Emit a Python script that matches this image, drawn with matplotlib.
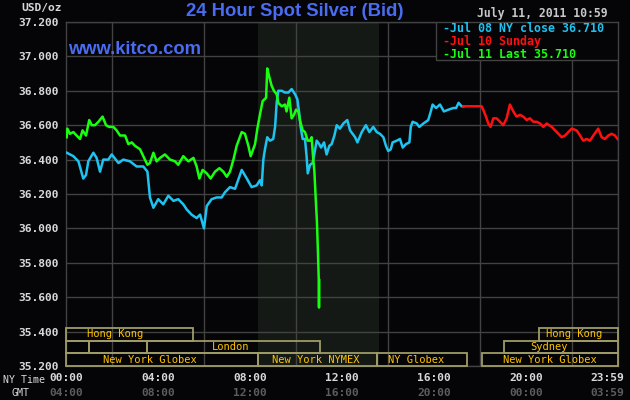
import matplotlib
matplotlib.use("Agg")
import matplotlib.pyplot as plt
from matplotlib.patches import Rectangle
import matplotlib.transforms as mtransforms

# --- data (hours after 00:00 NY time, USD/oz) ---
jul08_hours = [0.03, 0.32, 0.54, 0.75, 0.87, 0.97, 1.19, 1.33, 1.48, 1.62, 1.84, 1.99,
               2.28, 2.49, 2.78, 3.07, 3.36, 3.54, 3.65, 3.80, 4.01, 4.23, 4.45, 4.67,
               4.88, 5.10, 5.25, 5.46, 5.68, 5.83, 6.00, 6.12, 6.33, 6.55, 6.77, 6.91,
               7.13, 7.35, 7.64, 7.86, 8.07, 8.29, 8.43, 8.51, 8.58, 8.65, 8.75, 8.87,
               9.01, 9.09, 9.16, 9.23, 9.38, 9.52, 9.67, 9.81, 9.96, 10.06, 10.14, 10.20,
               10.29, 10.39, 10.46, 10.51, 10.61, 10.72, 10.78, 10.90, 11.01, 11.09, 11.22,
               11.33, 11.45, 11.55, 11.67, 11.77, 11.91, 12.06, 12.23, 12.35, 12.57, 12.67,
               12.86, 13.04, 13.19, 13.36, 13.51, 13.65, 13.80, 13.91, 14.01, 14.12, 14.20,
               14.38, 14.52, 14.64, 14.78, 14.93, 14.99, 15.07, 15.25, 15.36, 15.54, 15.75,
               15.86, 15.94, 16.09, 16.26, 16.43, 16.62, 16.84, 16.96, 17.07, 17.20, 17.28]
jul08_price = [36.44, 36.42, 36.39, 36.29, 36.31, 36.39, 36.44, 36.41, 36.33, 36.40, 36.40, 36.43,
               36.38, 36.40, 36.39, 36.36, 36.36, 36.33, 36.18, 36.12, 36.17, 36.14, 36.19, 36.16,
               36.17, 36.14, 36.11, 36.08, 36.06, 36.08, 36.00, 36.13, 36.17, 36.18, 36.18, 36.21,
               36.24, 36.23, 36.34, 36.29, 36.24, 36.25, 36.28, 36.25, 36.40, 36.46, 36.53, 36.51,
               36.52, 36.59, 36.73, 36.80, 36.80, 36.79, 36.79, 36.81, 36.78, 36.75, 36.67, 36.59,
               36.52, 36.52, 36.42, 36.32, 36.37, 36.38, 36.42, 36.51, 36.49, 36.47, 36.50,
               36.43, 36.48, 36.49, 36.54, 36.60, 36.58, 36.61, 36.63, 36.57, 36.53, 36.50,
               36.56, 36.60, 36.56, 36.59, 36.56, 36.55, 36.53, 36.48, 36.45, 36.46, 36.50,
               36.51, 36.52, 36.47, 36.49, 36.50, 36.59, 36.62, 36.61, 36.59, 36.61, 36.63,
               36.68, 36.72, 36.70, 36.72, 36.68, 36.69, 36.70, 36.70, 36.73, 36.71, 36.71]

jul10_hours = [17.28, 18.07, 18.14, 18.26, 18.36, 18.46, 18.58, 18.72, 18.87, 19.01, 19.16,
               19.30, 19.45, 19.59, 19.74, 19.88, 20.03, 20.17, 20.32, 20.46, 20.61, 20.75,
               20.90, 21.12, 21.26, 21.41, 21.55, 21.70, 21.84, 21.99, 22.20, 22.35, 22.49,
               22.64, 22.78, 22.93, 23.14, 23.29, 23.43, 23.58, 23.72, 23.87, 23.98]
jul10_price = [36.71, 36.71, 36.69, 36.65, 36.61, 36.59, 36.64, 36.64, 36.62, 36.60, 36.64,
               36.72, 36.68, 36.65, 36.66, 36.65, 36.63, 36.64, 36.62, 36.62, 36.61, 36.59,
               36.61, 36.59, 36.57, 36.55, 36.53, 36.54, 36.56, 36.58, 36.57, 36.54, 36.51,
               36.52, 36.51, 36.54, 36.58, 36.53, 36.52, 36.54, 36.55, 36.54, 36.52]

jul11_hours = [0.03, 0.06, 0.17, 0.32, 0.46, 0.61, 0.72, 0.87, 1.01, 1.12, 1.26, 1.41, 1.59,
               1.74, 1.88, 2.06, 2.20, 2.35, 2.57, 2.71, 2.86, 3.00, 3.22, 3.36, 3.54, 3.65,
               3.80, 3.94, 4.09, 4.30, 4.52, 4.74, 4.88, 5.10, 5.32, 5.54, 5.68, 5.80, 5.94,
               6.12, 6.29, 6.48, 6.67, 6.84, 6.99, 7.13, 7.28, 7.42, 7.64, 7.78, 7.93, 8.03,
               8.22, 8.32, 8.43, 8.55, 8.70, 8.75, 8.84, 8.94, 9.04, 9.16, 9.23, 9.38, 9.52,
               9.59, 9.71, 9.81, 9.91, 10.00, 10.10, 10.17, 10.29, 10.39, 10.51, 10.61, 10.68,
               10.75, 10.80, 10.84, 10.87, 10.91, 10.96, 10.99, 11.00, 11.01]
jul11_price = [36.53, 36.58, 36.55, 36.56, 36.54, 36.52, 36.57, 36.54, 36.63, 36.60, 36.60, 36.62, 36.65,
               36.60, 36.59, 36.59, 36.57, 36.54, 36.54, 36.49, 36.50, 36.48, 36.46, 36.42, 36.37, 36.38,
               36.44, 36.39, 36.41, 36.43, 36.40, 36.39, 36.37, 36.42, 36.39, 36.41, 36.36, 36.29, 36.34,
               36.32, 36.29, 36.33, 36.35, 36.33, 36.30, 36.33, 36.40, 36.48, 36.56, 36.55, 36.48, 36.42,
               36.49, 36.58, 36.66, 36.74, 36.76, 36.93, 36.88, 36.83, 36.80, 36.78, 36.73, 36.71, 36.72,
               36.68, 36.76, 36.64, 36.66, 36.69, 36.68, 36.63, 36.57, 36.56, 36.51, 36.51, 36.53,
               36.40, 36.33, 36.22, 36.14, 36.04, 35.84, 35.70, 35.54, 35.70]

legend_labels = ["-Jul 08 NY close 36.710", "-Jul 10 Sunday", "-Jul 11 Last 35.710"]

ny_ticks = [0, 4, 8, 12, 16, 20, 23.98]
ny_labels = ["00:00", "04:00", "08:00", "12:00", "16:00", "20:00", "23:59"]
gmt_labels = ["04:00", "08:00", "12:00", "16:00", "20:00", "00:00", "03:59"]
price_ticks = [35.2, 35.4, 35.6, 35.8, 36.0, 36.2, 36.4, 36.6, 36.8, 37.0, 37.2]

# market sessions: row (0 = bottom), start hour, end hour, name, label hour
sessions = [
    (2, 0.0, 5.52, "Hong Kong", 2.13),
    (2, 20.57, 24.0, "Hong Kong", 22.11),
    (1, 0.0, 1.0, "", 0),
    (1, 1.0, 3.52, "", 0),
    (1, 3.52, 11.04, "London", 7.17),
    (1, 19.04, 24.0, "Sydney", 21.0),
    (0, 0.0, 8.33, "New York Globex", 3.65),
    (0, 8.33, 13.5, "New York NYMEX", 10.87),
    (0, 13.5, 17.43, "NY Globex", 15.22),
    (0, 18.08, 24.0, "New York Globex", 21.02),
]
nymex_hours = (8.35, 13.6)

BG = "#050507"
GRID = "#424242"
CYAN = "#1ec3f0"
RED = "#ff1010"
GREEN = "#18ff10"
BLUE = "#4a6cf0"
BOX = "#a09c66"
GOLD = "#ffc400"
MONO = "DejaVu Sans Mono"

fig = plt.figure(figsize=(6.3, 4.0), dpi=100, facecolor=BG)
ax = fig.add_axes([66 / 630, 34 / 400, 552 / 630, 344 / 400])
ax.set_facecolor(BG)

ax.axvspan(*nymex_hours, color="#151915", zorder=0, lw=0)

ax.set_xlim(0, 24)
ax.set_ylim(35.2, 37.2)
ax.set_xticks(range(0, 25, 2), minor=True)
ax.set_yticks(price_ticks)
ax.grid(True, which="minor", axis="x", color=GRID, lw=1.0, zorder=1)
ax.grid(True, which="major", axis="y", color=GRID, lw=1.0, zorder=1)
for s in ax.spines.values():
    s.set_color(GRID)
    s.set_linewidth(1.0)

ax.set_xticks(ny_ticks)
ax.set_xticklabels(ny_labels)
ax.set_yticklabels([f"{v:.3f}" for v in price_ticks])
ax.tick_params(axis="both", which="both", length=0)
ax.tick_params(axis="y", pad=5, labelsize=8.1, labelcolor="#d8d8d8")
ax.tick_params(axis="x", pad=5, labelsize=8.1, labelcolor="#d8d8d8")

gmt = ax.secondary_xaxis("bottom")
gmt.set_xticks(ny_ticks)
gmt.set_xticklabels(gmt_labels)
gmt.tick_params(length=0, pad=16, labelsize=8.1, labelcolor="#5c5c5c")
gmt.spines["bottom"].set_visible(False)

# the 23:59 labels sit a little left of the last grid line, as on the original
nudge = mtransforms.ScaledTranslation(-10 / 100, 0, fig.dpi_scale_trans)
for lab in ax.get_xticklabels() + ax.get_yticklabels() + gmt.get_xticklabels():
    lab.set_fontfamily(MONO)
    lab.set_fontweight("bold")
for lab in (ax.get_xticklabels()[-1], gmt.get_xticklabels()[-1]):
    lab.set_transform(lab.get_transform() + nudge)

# price lines
ax.plot(jul08_hours, jul08_price, color=CYAN, lw=1.8, zorder=4)
ax.plot(jul10_hours, jul10_price, color=RED, lw=1.8, zorder=4)
ax.plot(jul11_hours, jul11_price, color=GREEN, lw=1.8, zorder=5)

# market session boxes along the bottom
trans = mtransforms.blended_transform_factory(ax.transData, ax.transAxes)
row_h = 0.037
for row, start, end, name, lab_x in sessions:
    ax.add_patch(Rectangle((start, row * row_h), end - start, row_h, transform=trans,
                           fill=False, edgecolor=BOX, lw=1.3, zorder=3, clip_on=False))
    if name:
        ax.text(lab_x, row * row_h + row_h / 2, name, transform=trans, ha="center",
                va="center", color=GOLD, fontsize=7.5, family=MONO, zorder=6)

# legend box in the top right corner
ax.add_patch(Rectangle((0.67, 0.889), 0.33, 0.111, transform=ax.transAxes,
                       facecolor=BG, edgecolor=GRID, lw=1.0, zorder=7))
for i, (txt, col) in enumerate(zip(legend_labels, [CYAN, RED, GREEN])):
    fig.text(443 / 630, 1 - (29 + 12.5 * i) / 400, txt, color=col, fontsize=8.4,
             family=MONO, fontweight="bold", ha="left", va="center", zorder=8)

fig.text(295 / 630, 1 - 12 / 400, "24 Hour Spot Silver (Bid)", color=BLUE,
         fontsize=13.3, family="Liberation Sans", fontweight="bold", ha="center", va="center")
fig.text(68 / 630, 1 - 50 / 400, "www.kitco.com", color=BLUE, fontsize=13.2,
         family="Liberation Sans", fontweight="bold", ha="left", va="center", zorder=8)
fig.text(62 / 630, 1 - 8 / 400, "USD/oz", color="#d8d8d8", fontsize=8.1,
         family=MONO, fontweight="bold", ha="right", va="center")
fig.text(608 / 630, 1 - 14 / 400, "July 11, 2011 10:59", color="#c8c8c8", fontsize=8.3,
         family=MONO, fontweight="bold", ha="right", va="center")
fig.text(45 / 630, 1 - 380 / 400, "NY Time", color="#d8d8d8", fontsize=7.2,
         family=MONO, ha="right", va="center")
fig.text(21 / 630, 1 - 393 / 400, "GMT", color="#d8d8d8", fontsize=7.2,
         family=MONO, ha="center", va="center")

fig.savefig("out.png", dpi=100, facecolor=BG)
